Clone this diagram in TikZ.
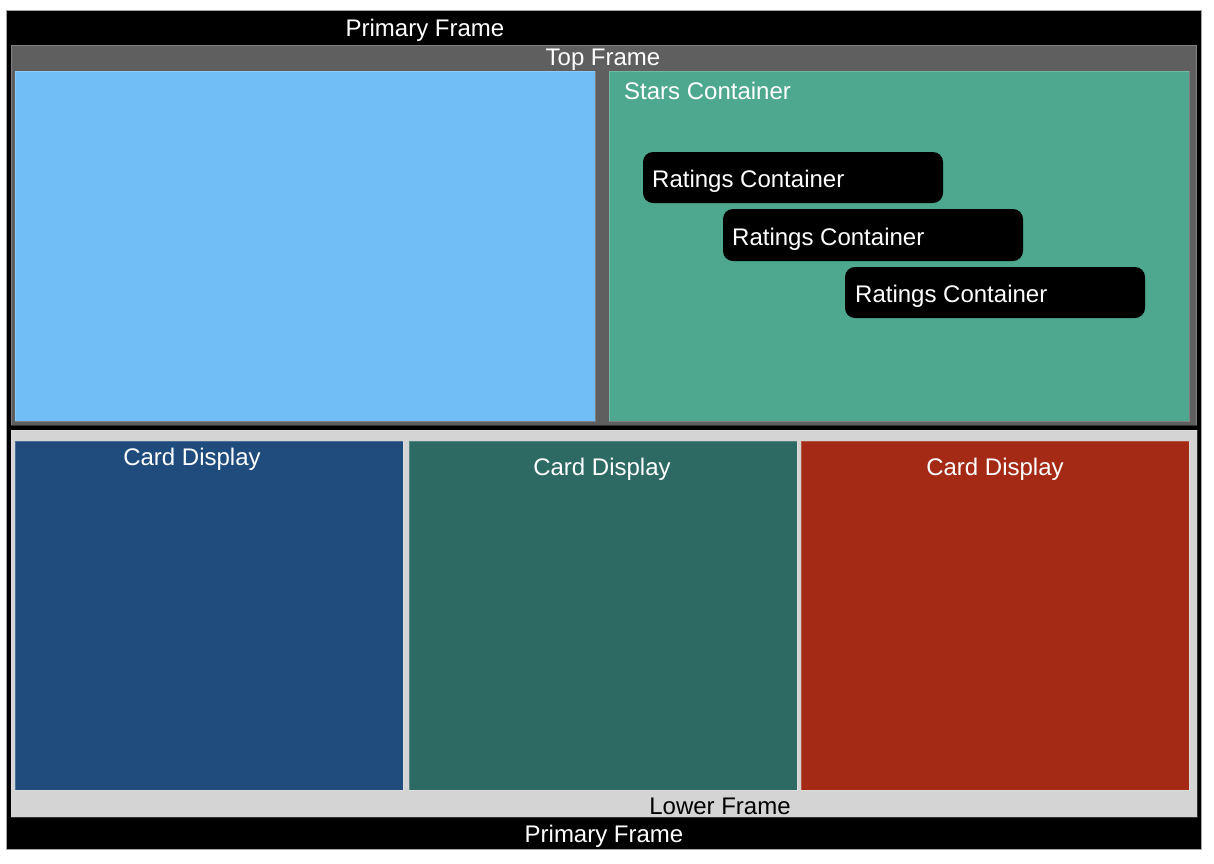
\documentclass[tikz,border=0pt]{standalone}
\usepackage{fontspec}
\setmainfont{Liberation Sans}
\definecolor{topgray}{HTML}{5F5F5F}
\definecolor{lowgray}{HTML}{D4D4D4}
\definecolor{skyblue}{HTML}{71BEF7}
\definecolor{starsgreen}{HTML}{4DA88F}
\definecolor{carddarkblue}{HTML}{1F4C7C}
\definecolor{cardteal}{HTML}{2E6A64}
\definecolor{cardred}{HTML}{A42A16}
\begin{document}
\begin{tikzpicture}[x=1pt,y=-1pt,
  panel/.style={rectangle, inner sep=0pt, outer sep=0pt, anchor=north west,
    draw=white, draw opacity=0.2, line width=0.8pt},
  ratingbox/.style={panel, fill=black, draw=none, rounded corners=10pt,
    minimum width=300, minimum height=51},
  lbl/.style={inner sep=0pt, anchor=base, text=white,
    font=\fontsize{24}{28}\selectfont},
  lbll/.style={lbl, anchor=base west}]
  \useasboundingbox (0,0) rectangle (1214,863);
  \fill[white] (0,0) rectangle (1214,863);

  % outer frame
  \node[panel, fill=black, draw=gray!70, draw opacity=1,
    minimum width=1194.5, minimum height=839] (primary) at (6.5,10.5) {};

  % upper half
  \node[panel, fill=topgray, minimum width=1185.5, minimum height=380] (topframe) at (11,45) {};
  \node[panel, fill=skyblue, minimum width=580, minimum height=350] (hero) at (15,71) {};
  \node[panel, fill=starsgreen, minimum width=580, minimum height=350] (stars) at (609,71) {};
  \node[ratingbox] (rate1) at (643,152) {};
  \node[ratingbox, minimum height=52] (rate2) at (723,209) {};
  \node[ratingbox] (rate3) at (845,267) {};

  % lower half
  \node[panel, fill=lowgray, minimum width=1186, minimum height=387] (lowframe) at (11,430) {};
  \node[panel, fill=carddarkblue, minimum width=388, minimum height=349] (card1) at (15,441) {};
  \node[panel, fill=cardteal, minimum width=388, minimum height=349] (card2) at (409,441) {};
  \node[panel, fill=cardred, minimum width=388, minimum height=349] (card3) at (801,441) {};

  % labels
  \node[lbl] (primarytop) at (425,36.5) {Primary Frame};
  \node[lbl] (toplbl) at (603,65) {Top Frame};
  \node[lbll] (starslbl) at (624,99) {Stars Container};
  \node[lbll] (rate1lbl) at (652,187) {Ratings Container};
  \node[lbll] (rate2lbl) at (732,245) {Ratings Container};
  \node[lbll] (rate3lbl) at (855,302) {Ratings Container};
  \node[lbl] (card1lbl) at (192,465) {Card Display};
  \node[lbl] (card2lbl) at (602,475) {Card Display};
  \node[lbl] (card3lbl) at (995,475) {Card Display};
  \node[lbl, text=black] (lowlbl) at (720,814) {Lower Frame};
  \node[lbl] (primarybot) at (604,842) {Primary Frame};
\end{tikzpicture}
\end{document}
